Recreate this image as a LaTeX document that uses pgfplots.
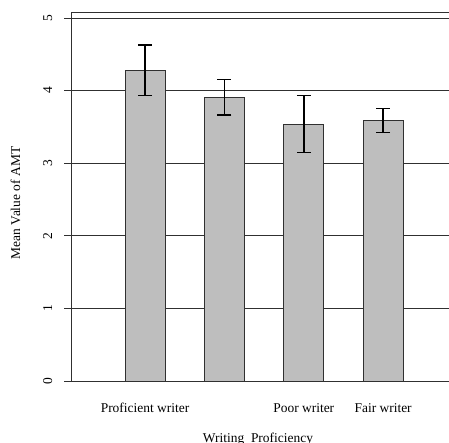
\documentclass[border=0pt]{standalone}
\usepackage{fontspec}
\setmainfont{Liberation Serif}
\usepackage{pgfplots}
\pgfplotsset{compat=1.18}
\definecolor{bargray}{HTML}{BEBEBE}
\definecolor{linegray}{HTML}{303030}
\begin{document}
\begin{tikzpicture}[x=1bp,y=1bp]
\clip (0,0) rectangle (449,443);
\begin{axis}[
  at={(71bp,62bp)}, anchor=south west,
  scale only axis, width=378bp, height=369bp,
  xmin=-0.933, xmax=3.83, ymin=0, ymax=5.083,
  axis line style={draw=none},
  ytick={0,1,2,3,4,5},
  ymajorgrids,
  major grid style={linegray, line width=0.9bp},
  tick align=outside, major tick length=7bp,
  ytick style={linegray, line width=0.9bp},
  xtick={0,2,3}, xticklabels={Proficient writer, Poor writer, Fair writer},
  xtick style={draw=none},
  every tick label/.append style={font=\fontsize{13.5}{16}\selectfont},
  yticklabel style={rotate=90, anchor=base, yshift=12bp},
  xticklabel style={anchor=base, yshift=-25bp},
  /pgf/number format/assume math mode=true,
  clip=false,
]
\addplot[ybar, bar width=40bp, fill=bargray, draw=linegray, line width=0.9bp,
  error bars/.cd, y dir=both, y explicit,
  error bar style={black, line width=1.5bp},
  error mark options={black, line width=1.5bp, mark size=7bp, rotate=90}]
  coordinates {
    (0,4.28) +- (0,0.345)
    (1,3.91) +- (0,0.245)
    (2,3.54) +- (0,0.39)
    (3,3.59) +- (0,0.165)
  };
\draw[linegray, line width=0.9bp] (rel axis cs:0,0) -- (rel axis cs:0,1) -- (rel axis cs:1,1);
\end{axis}
\node[rotate=90, anchor=base, font=\fontsize{13.5}{16}\selectfont] at (20,240) {Mean Value of AMT};
\node[anchor=base, font=\fontsize{13.5}{16}\selectfont] at (258,0.5) {Writing\ \ Proficiency};
\end{tikzpicture}
\end{document}
